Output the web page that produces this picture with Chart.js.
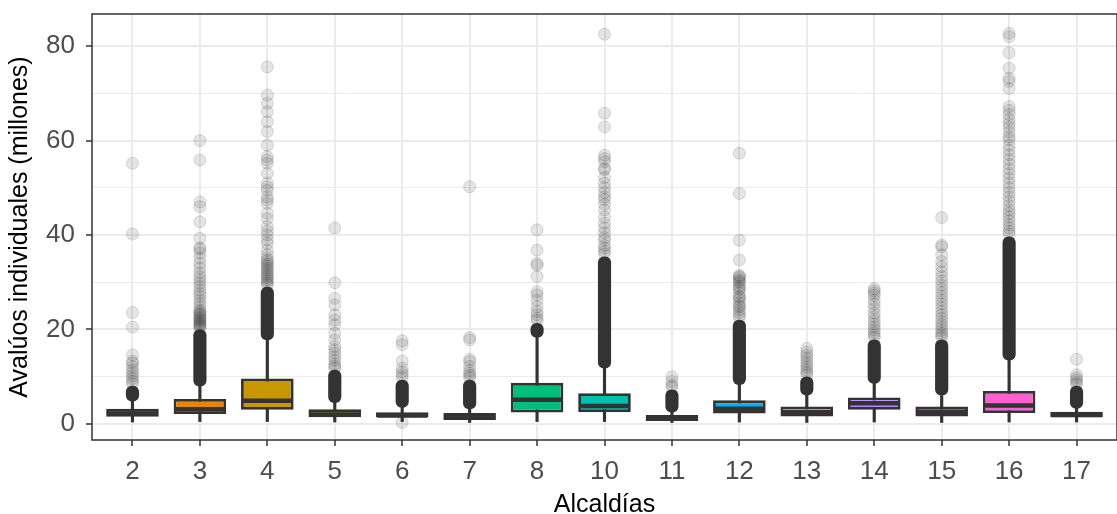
<!DOCTYPE html>
<html>
<head>
<meta charset="utf-8">
<script src="https://cdn.jsdelivr.net/npm/chart.js@4.4.0/dist/chart.umd.min.js"></script>
<style>
body { margin: 0; background: #fff; }
</style>
</head>
<body>
<canvas id="boxChart" width="1117" height="514"></canvas>
<script>
// categories and box summaries (millones)
const alcaldias = ['2', '3', '4', '5', '6', '7', '8', '10', '11', '12', '13', '14', '15', '16', '17'];
const fillColors = ['#F8766D', '#E58700', '#C99800', '#A3A500', '#6BB100', '#00BA38', '#00BF7D', '#00C0AF',
                    '#00BCD8', '#00B0F6', '#619CFF', '#B983FF', '#E76BF3', '#FD61D1', '#FF67A4'];
const whiskLo = [0.4, 0.5, 0.5, 0.4, 0.5, 0.3, 0.5, 0.5, 0.3, 0.4, 0.3, 0.4, 0.3, 0.4, 0.4];
const q1      = [1.5, 2.1, 3.0, 1.4, 1.4, 0.85, 2.4, 2.5, 0.6, 2.2, 1.6, 3.0, 1.6, 2.3, 1.4];
const medians = [2.2, 3.1, 4.9, 2.0, 1.8, 1.3, 5.1, 3.8, 1.1, 3.2, 2.5, 4.4, 2.6, 3.9, 1.9];
const q3      = [3.2, 5.3, 9.6, 3.1, 2.5, 2.3, 8.7, 6.5, 1.9, 5.0, 3.7, 5.6, 3.7, 7.0, 2.6];
const whiskHi = [5.5, 8.7, 19.0, 5.0, 3.8, 3.5, 18.3, 12.2, 2.8, 8.8, 6.4, 8.8, 6.0, 14.5, 3.5];

// runs of outliers so dense they merge into a solid column
const denseLo = [4.8, 8.0, 17.8, 4.5, 3.5, 3.2, 18.3, 11.8, 2.5, 8.3, 6.1, 8.6, 6.1, 13.5, 3.3];
const denseHi = [8.0, 20.0, 29.0, 11.4, 9.3, 9.3, 21.3, 35.4, 7.2, 22.0, 10.0, 17.8, 17.8, 39.6, 8.0];

// the scattered outliers above those runs
const outliers = [
  [8.5, 9.0, 9.6, 10.2, 10.8, 11.4, 12.1, 12.9, 13.3, 14.6, 20.5, 23.6, 40.2, 55.2],
  [20.2, 20.5, 20.8, 21.0, 21.3, 21.5, 21.9, 22.0, 22.4, 22.6, 23.0, 23.2, 23.5, 23.8, 24.1, 24.8, 25.5,
   26.2, 27.0, 27.6, 28.3, 29.1, 29.8, 30.5, 31.2, 32.0, 33.0, 34.0, 35.1, 36.2, 37.0, 37.3, 39.3, 42.8,
   46.0, 47.0, 55.9, 60.0],
  [29.5, 29.8, 30.2, 30.6, 31.0, 31.4, 31.7, 32.2, 32.6, 33.0, 33.4, 33.8, 34.2, 34.6, 35.0, 35.8, 36.8,
   38.2, 39.0, 40.0, 40.8, 41.8, 43.5, 44.6, 46.7, 47.4, 48.1, 49.5, 50.2, 51.0, 53.1, 55.2, 55.9, 56.6,
   59.0, 61.9, 64.0, 66.1, 67.9, 69.6, 75.6],
  [11.8, 12.2, 12.7, 13.5, 14.2, 15.0, 15.7, 16.4, 17.8, 19.2, 21.0, 22.0, 23.1, 25.2, 26.6, 29.9, 41.5],
  [0.3, 9.8, 10.4, 11.0, 11.8, 13.3, 16.8, 17.6],
  [9.8, 10.3, 10.7, 11.3, 12.2, 13.2, 13.7, 17.8, 18.3, 50.2],
  [21.9, 22.4, 23.1, 23.8, 24.8, 26.2, 27.3, 28.0, 31.2, 33.6, 34.0, 36.8, 41.1],
  [36.0, 36.5, 37.2, 37.8, 38.9, 39.5, 40.5, 41.5, 42.5, 43.8, 45.3, 46.5, 47.5, 48.1, 49.0, 50.0, 51.0,
   52.2, 53.8, 54.1, 55.5, 56.2, 56.9, 62.9, 65.8, 82.5],
  [7.8, 8.2, 9.0, 10.0],
  [22.5, 23.0, 23.6, 24.2, 24.8, 25.0, 25.6, 26.3, 26.8, 27.0, 27.8, 28.5, 28.8, 29.2, 29.9, 30.2, 30.5,
   31.0, 31.2, 31.5, 34.7, 38.9, 48.8, 57.3],
  [10.4, 10.9, 11.4, 12.0, 12.6, 13.2, 13.9, 14.5, 15.2, 16.0],
  [18.3, 18.8, 19.3, 19.9, 20.5, 21.2, 21.9, 22.7, 23.5, 24.5, 25.4, 26.2, 27.2, 27.7, 28.2, 28.7],
  [18.3, 18.8, 19.2, 19.8, 20.4, 21.0, 21.7, 22.4, 23.1, 23.8, 24.6, 25.4, 26.2, 27.0, 27.8, 28.6, 29.4,
   30.3, 31.2, 32.2, 33.3, 34.4, 35.8, 37.5, 37.9, 43.7],
  [40.2, 40.8, 41.5, 42.2, 43.0, 43.8, 44.6, 45.3, 46.2, 47.2, 48.1, 49.0, 50.0, 51.0, 52.0, 53.0, 54.0,
   55.0, 56.0, 57.0, 58.0, 59.0, 60.2, 60.8, 61.8, 62.8, 63.6, 64.5, 65.5, 66.4, 67.2, 71.0, 72.5, 73.2,
   75.3, 78.6, 82.0, 82.7],
  [8.4, 8.8, 9.3, 9.8, 10.4, 13.7]
];

const yMajor = [0, 20, 40, 60, 80];
const yMinor = [10, 30, 50, 70];

const dark = '#333333';
const tickFont = { family: 'Liberation Sans, Arial, sans-serif', size: 26, lineHeight: 1.2 };
const titleFont = { family: 'Liberation Sans, Arial, sans-serif', size: 25, lineHeight: 1 };

// x positions are the category index; ggplot pads a discrete axis by 0.6 on each side
const pos = alcaldias.map((a, i) => i);

const outlierPoints = [];
outliers.forEach((list, i) => list.forEach(v => outlierPoints.push({ x: pos[i], y: v })));

// theme_bw style panel border
const panelBorder = {
  id: 'panelBorder',
  afterDraw(chart) {
    const { ctx, chartArea: a } = chart;
    ctx.save();
    ctx.strokeStyle = dark;
    ctx.lineWidth = 1.5;
    ctx.strokeRect(a.left, a.top, a.right - a.left, a.bottom - a.top);
    ctx.restore();
  }
};

const ctx = document.getElementById('boxChart');
const boxChart = new Chart(ctx, {
  type: 'bar',
  data: {
    datasets: [
      {
        type: 'scatter',
        label: 'median',
        data: pos.map(i => ({ x: i, y: medians[i] })),
        pointStyle: 'line',
        pointRadius: 25,
        pointHoverRadius: 25,
        borderColor: dark,
        borderWidth: 4.5,
        order: 0
      },
      {
        label: 'box',
        data: pos.map(i => ({ x: i, y: [q1[i], q3[i]] })),
        backgroundColor: fillColors,
        borderColor: dark,
        borderWidth: 2.8,
        borderSkipped: false,
        barPercentage: 0.78,
        categoryPercentage: 1,
        grouped: false,
        order: 1
      },
      {
        type: 'scatter',
        label: 'outliers',
        data: outlierPoints,
        pointRadius: 6,
        pointHoverRadius: 6,
        backgroundColor: 'rgba(51,51,51,0.13)',
        borderColor: 'rgba(51,51,51,0.16)',
        borderWidth: 1,
        order: 2
      },
      {
        label: 'dense',
        data: pos.map(i => ({ x: i, y: [denseLo[i], denseHi[i]] })),
        backgroundColor: dark,
        barThickness: 12.5,
        borderRadius: 6,
        borderSkipped: false,
        grouped: false,
        order: 3
      },
      {
        label: 'whisker',
        data: pos.map(i => ({ x: i, y: [whiskLo[i], whiskHi[i]] })),
        backgroundColor: dark,
        barThickness: 2.5,
        borderSkipped: false,
        grouped: false,
        order: 4
      }
    ]
  },
  options: {
    responsive: false,
    animation: false,
    layout: { autoPadding: false, padding: { top: 14, right: -12, left: 0, bottom: 0 } },
    plugins: {
      legend: { display: false },
      tooltip: { enabled: false }
    },
    scales: {
      x: {
        type: 'linear',
        min: -0.6,
        max: pos.length - 1 + 0.6,
        offset: false,
        afterBuildTicks: s => { s.ticks = pos.map(v => ({ value: v })); },
        afterFit: s => { s.height = 74; s.paddingLeft = 0; s.paddingRight = 0; },
        grid: {
          offset: false,
          color: '#EBEBEB',
          lineWidth: 2,
          tickColor: dark,
          tickLength: 6,
          tickWidth: 1.5
        },
        border: { display: false },
        ticks: {
          color: '#4D4D4D',
          font: tickFont,
          padding: 10,
          autoSkip: false,
          maxRotation: 0,
          callback: v => alcaldias[v]
        },
        title: {
          display: true,
          text: 'Alcaldías',
          color: '#000',
          font: titleFont,
          padding: { top: 0, bottom: -4 }
        }
      },
      y: {
        min: -3.4,
        max: 86.8,
        afterBuildTicks: s => {
          s.ticks = yMajor.concat(yMinor).sort((a, b) => a - b).map(v => ({ value: v }));
        },
        afterFit: s => { s.width = 92; s.paddingTop = 0; s.paddingBottom = 0; },
        grid: {
          color: '#EBEBEB',
          lineWidth: c => yMajor.includes(c.tick.value) ? 2 : 1,
          tickColor: c => yMajor.includes(c.tick.value) ? dark : 'rgba(0,0,0,0)',
          tickLength: 6,
          tickWidth: 1.5
        },
        border: { display: false },
        ticks: {
          color: '#4D4D4D',
          font: tickFont,
          padding: 11,
          autoSkip: false,
          callback: v => yMajor.includes(v) ? v : ''
        },
        title: {
          display: true,
          text: 'Avalúos individuales (millones)',
          color: '#000',
          font: titleFont,
          padding: { top: 8, bottom: 0 }
        }
      }
    }
  },
  plugins: [panelBorder]
});
</script>
</body>
</html>
